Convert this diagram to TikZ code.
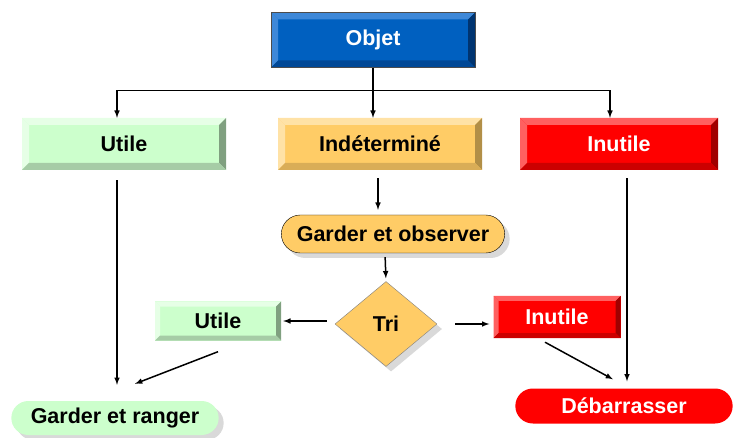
\documentclass[tikz,border=0pt]{standalone}
\usepackage{fontspec}
\setmainfont{Liberation Sans}
\usepackage{tikz}
\usetikzlibrary{calc,shapes.geometric,shapes.misc,shadows}

\definecolor{objblue}{RGB}{0,96,192}
\definecolor{objlight}{RGB}{62,136,216}
\definecolor{objdark}{RGB}{0,52,112}
\definecolor{objbot}{RGB}{0,72,150}
\definecolor{vert}{RGB}{204,255,204}
\definecolor{vertlight}{RGB}{230,255,230}
\definecolor{vertdark}{RGB}{128,160,128}
\definecolor{vertbot}{RGB}{166,204,166}
\definecolor{orange}{RGB}{255,204,102}
\definecolor{orangelight}{RGB}{255,226,166}
\definecolor{orangedark}{RGB}{178,143,71}
\definecolor{orangebot}{RGB}{217,173,87}
\definecolor{rouge}{RGB}{255,0,0}
\definecolor{rougelight}{RGB}{255,96,96}
\definecolor{rougedark}{RGB}{160,0,0}
\definecolor{rougebot}{RGB}{204,0,0}

\newcommand{\bevw}{7pt}
\tikzset{
  bevel width/.code={\renewcommand{\bevw}{#1}},
  bevel/.style n args={4}{fill=#1, path picture={
      \path (path picture bounding box.south west) coordinate (sw)
            (path picture bounding box.north east) coordinate (ne);
      \fill[#2] (sw|-ne) -- (ne) -- ++(-\bevw,-\bevw) -- ($(sw|-ne)+(\bevw,-\bevw)$) -- cycle;
      \fill[#2] (sw) -- (sw|-ne) -- ++(\bevw,-\bevw) -- ($(sw)+(\bevw,\bevw)$) -- cycle;
      \fill[#3] (ne) -- (ne|-sw) -- ++(-\bevw,\bevw) -- ($(ne)+(-\bevw,-\bevw)$) -- cycle;
      \fill[#4] (sw) -- (ne|-sw) -- ++(-\bevw,\bevw) -- ($(sw)+(\bevw,\bevw)$) -- cycle;
    }},
  box/.style={rectangle, font=\fontsize{21.5}{25}\selectfont\bfseries},
  pill/.style={rounded rectangle, font=\fontsize{21.5}{25}\selectfont\bfseries},
  ombre/.style={drop shadow={shadow xshift=5pt, shadow yshift=-5pt, fill=black!15, opacity=1}},
  fleche/.style={-latex, line width=1.5pt},
}

\begin{document}
\begin{tikzpicture}[x=1pt,y=1pt]
  \useasboundingbox (0,0) rectangle (734,437);

  % niveau 1
  \node[box, bevel={objblue}{objlight}{objdark}{objbot}, draw=black!70, text=white,
        minimum width=204pt, minimum height=55pt] (objet) at (373,397) {Objet};

  % niveau 2
  \node[box, bevel={vert}{vertlight}{vertdark}{vertbot},
        minimum width=204pt, minimum height=52pt] (utile) at (124,293) {Utile};
  \node[box, bevel={orange}{orangelight}{orangedark}{orangebot},
        minimum width=204pt, minimum height=52pt] (indet) at (380,293) {Indéterminé};
  \node[box, bevel={rouge}{rougelight}{rougedark}{rougebot}, text=white,
        minimum width=198pt, minimum height=52pt] (inutile) at (619,293) {Inutile};

  % tri
  \node[pill, ombre, fill=orange, draw=black, thin,
        minimum width=230pt, minimum height=38pt] (observer) at (393,203) {Garder et observer};
  \node[diamond, ombre, fill=orange, draw=black!50, thin, aspect=1.2,
        minimum width=102pt, minimum height=85pt, inner sep=0pt,
        font=\fontsize{21.5}{25}\selectfont\bfseries] (tri) at (386,113) {Tri};
  \node[box, bevel width=5pt, bevel={vert}{vertlight}{vertdark}{vertbot},
        minimum width=126pt, minimum height=39pt] (utilebis) at (218,116) {Utile};
  \node[box, bevel width=5pt, bevel={rouge}{rougelight}{rougedark}{rougebot}, text=white,
        minimum width=127pt, minimum height=42pt] (inutilebis) at (557,120) {Inutile};

  % fin
  \node[pill, ombre, fill=vert,
        minimum width=214pt, minimum height=34pt] (ranger) at (115,19) {Garder et ranger};
  \node[pill, fill=rouge, text=white,
        minimum width=224pt, minimum height=35pt] (debarras) at (624,31) {Débarrasser};

  % connecteurs
  \draw[fleche] (objet.south) -- ++(0,-23) coordinate (split) -| ([xshift=-7pt]utile.north);
  \draw[fleche] (split) -- (objet.south|-indet.north);
  \draw[fleche] (split) -| ([xshift=-9pt]inutile.north);
  \draw[fleche, shorten <=8pt, shorten >=5pt] ([xshift=-2pt]indet.south) -- ([xshift=-15pt]observer.north);
  \draw[fleche, shorten <=4pt, shorten >=3pt] ([xshift=-8pt]observer.south) -- (tri.north);
  \draw[fleche, shorten <=8pt, shorten >=2pt] (tri.west|-utilebis.east) -- (utilebis.east);
  \draw[fleche, shorten <=18pt, shorten >=4pt] (tri.east) -- (inutilebis.west|-tri.east);
  \draw[fleche, shorten <=10pt, shorten >=16pt] ([xshift=-7pt]utile.south) -- ([xshift=2pt]ranger.north);
  \draw[fleche] ([yshift=-11pt]utilebis.south) -- ([xshift=20pt,yshift=17pt]ranger.north);
  \draw[fleche, shorten <=8pt, shorten >=7pt] ([xshift=8pt]inutile.south) -- ([xshift=3pt]debarras.north);
  \draw[fleche] ([xshift=-12pt,yshift=-4pt]inutilebis.south) -- ([xshift=-11pt,yshift=9pt]debarras.north);
\end{tikzpicture}
\end{document}
